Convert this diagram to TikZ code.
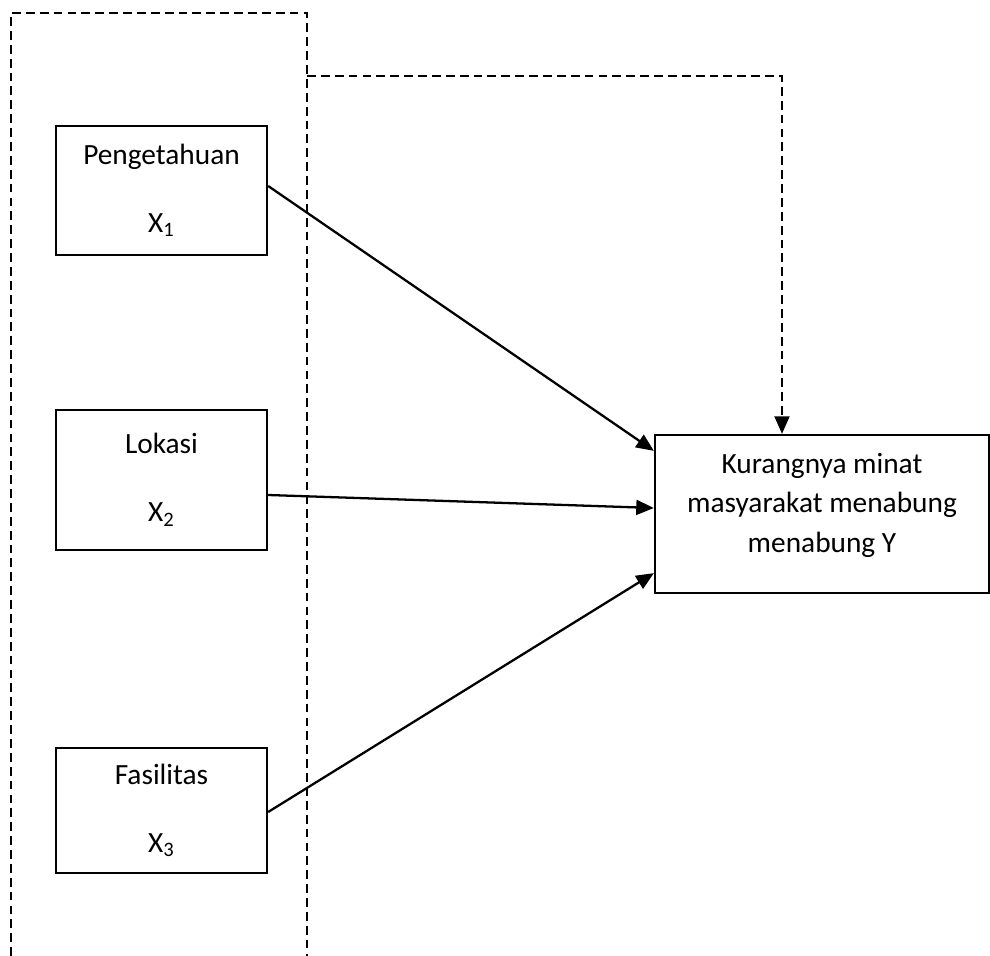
\documentclass[tikz,border=0pt]{standalone}
\usepackage{fontspec}
\setmainfont{Carlito}
\usepackage{tikz}
\usetikzlibrary{arrows.meta}

\tikzset{
  varbox/.style = {draw, line width=1.3pt, minimum width=4.22cm, align=center,
                   font=\fontsize{16.7}{38.6}\selectfont},
  ybox/.style = {draw, line width=1.3pt, minimum width=6.68cm, minimum height=3.16cm,
                 align=center, font=\fontsize{16.7}{22.5}\selectfont},
  frame/.style = {line width=1.2pt, dash pattern=on 5pt off 2.9pt},
  link/.style = {line width=1.3pt, -{Triangle[length=10pt, width=8.5pt]}}
}

\begin{document}
\begin{tikzpicture}
  \useasboundingbox (0,0) rectangle (19.8,-19.12);
  % variables
  \node[varbox, minimum height=2.58cm] (peng) at (3.23,-3.81) {Pengetahuan\\X\textsubscript{1}};
  \node[varbox, minimum height=2.8cm] (lok) at (3.23,-9.6) {Lokasi\\X\textsubscript{2}};
  \node[varbox, minimum height=2.5cm] (fas) at (3.23,-16.21) {Fasilitas\\X\textsubscript{3}};
  \node[ybox] (minat) at (16.44,-10.28) {Kurangnya minat\\masyarakat menabung\\menabung Y\\[-9.5pt]};
  % dashed frame
  \coordinate (fbl) at (0.22,-19.12);
  \coordinate (ftl) at (0.22,-0.26);
  \coordinate (ftr) at (6.14,-0.26);
  \coordinate (fbr) at (6.14,-19.12);
  \coordinate (fout) at (6.14,-1.52);
  \coordinate (fturn) at (15.64,-1.52);
  \draw[frame] (fbl) -- (ftl) -- (ftr) -- (fbr);
  \draw[frame, -{Triangle[length=10pt, width=8.5pt]}] (fout) -- (fturn) -- (fturn |- minat.north);
  % arrows
  \draw[link] ([yshift=0.09cm]peng.east) -- ([yshift=-0.34cm]minat.north west);
  \draw[link] ([yshift=-0.3cm]lok.east) -- ([yshift=0.12cm]minat.west);
  \draw[link] ([yshift=-0.03cm]fas.east) -- ([yshift=0.42cm]minat.south west);
\end{tikzpicture}
\end{document}
